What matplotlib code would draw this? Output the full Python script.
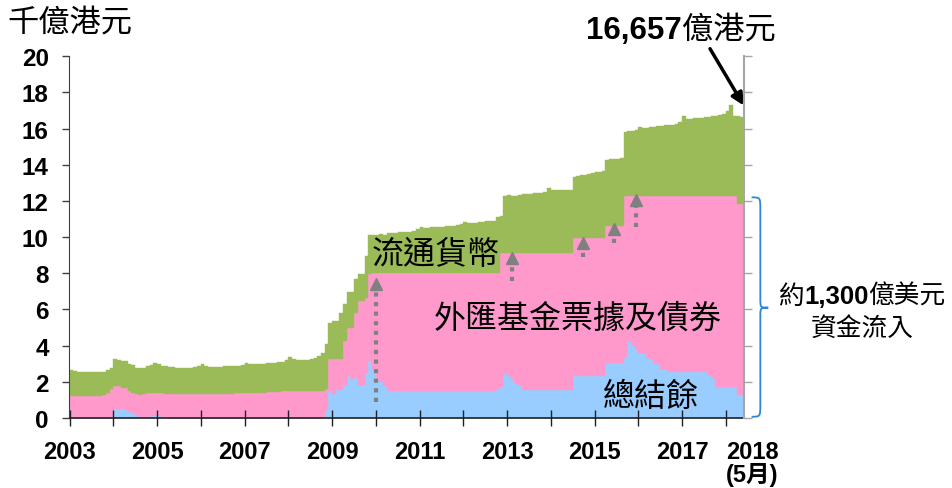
import numpy as np
import matplotlib
matplotlib.use("Agg")
import matplotlib.pyplot as plt
from matplotlib.path import Path
from matplotlib.patches import PathPatch

plt.rcParams['font.family'] = ['Liberation Sans', 'Noto Sans CJK TC']
CJK = ['Noto Sans CJK TC', 'DejaVu Sans']

# monthly values, Jan 2003 - May 2018, in 千億港元
balance = [  # 總結餘
    0, 0, 0, 0, 0, 0, 0, 0, 0, 0, 0, 0.05,                                # 2003
    0.51, 0.51, 0.51, 0.45, 0.32, 0.30, 0.10, 0.05, 0.05, 0.08, 0.12, 0.12,  # 2004
    0.10, 0.08, 0.05, 0.02, 0, 0, 0, 0, 0, 0, 0, 0,                       # 2005
    0, 0, 0, 0, 0, 0, 0, 0, 0, 0, 0, 0,                                   # 2006
    0, 0, 0, 0, 0, 0, 0, 0, 0, 0, 0, 0,                                   # 2007
    0, 0, 0, 0, 0, 0, 0, 0, 0, 0.05, 0.45, 1.49,                          # 2008
    1.30, 1.57, 1.57, 1.85, 2.40, 2.13, 2.22, 1.85, 1.85, 2.50, 3.15, 2.69,  # 2009
    2.13, 2.00, 1.76, 1.49, 1.49, 1.49, 1.49, 1.49, 1.49, 1.49, 1.49, 1.49,  # 2010
    1.49, 1.49, 1.49, 1.49, 1.49, 1.49, 1.49, 1.49, 1.49, 1.49, 1.49, 1.49,  # 2011
    1.49, 1.49, 1.49, 1.49, 1.49, 1.49, 1.49, 1.49, 1.49, 1.60, 1.73, 2.46,  # 2012
    2.30, 2.18, 1.95, 1.81, 1.60, 1.54, 1.54, 1.54, 1.54, 1.54, 1.54, 1.54,  # 2013
    1.54, 1.54, 1.54, 1.54, 1.54, 1.54, 2.32, 2.32, 2.32, 2.32, 2.32, 2.32,  # 2014
    2.35, 2.35, 2.35, 3.02, 3.02, 3.02, 3.02, 3.02, 3.39, 4.26, 4.02, 3.80,  # 2015
    3.58, 3.58, 3.39, 3.25, 2.96, 2.96, 2.72, 2.72, 2.54, 2.54, 2.54, 2.54,  # 2016
    2.54, 2.54, 2.54, 2.54, 2.54, 2.54, 2.54, 2.40, 2.23, 1.73, 1.73, 1.73,  # 2017
    1.73, 1.73, 1.73, 1.25, 1.25,                                         # 2018
]

bills = [  # 外匯基金票據及債券
    1.21, 1.21, 1.21, 1.21, 1.21, 1.21, 1.21, 1.21, 1.21, 1.25, 1.39, 1.53,
    1.25, 1.25, 1.16, 1.22, 1.17, 1.09, 1.20, 1.20, 1.25, 1.31, 1.28, 1.27,
    1.30, 1.29, 1.28, 1.29, 1.30, 1.30, 1.30, 1.30, 1.30, 1.30, 1.31, 1.31,
    1.32, 1.32, 1.32, 1.33, 1.33, 1.33, 1.34, 1.34, 1.35, 1.36, 1.37, 1.38,
    1.38, 1.38, 1.38, 1.39, 1.40, 1.41, 1.43, 1.44, 1.45, 1.46, 1.48, 1.49,
    1.49, 1.49, 1.49, 1.49, 1.49, 1.49, 1.49, 1.49, 1.49, 1.44, 1.15, 1.75,
    1.94, 1.67, 1.67, 2.40, 2.60, 2.87, 3.61, 4.62, 4.62, 4.16, 4.80, 5.31,
    5.91, 6.04, 6.28, 6.55, 6.55, 6.55, 6.55, 6.55, 6.55, 6.55, 6.55, 6.55,
    6.55, 6.55, 6.55, 6.55, 6.55, 6.55, 6.55, 6.55, 6.55, 6.55, 6.55, 6.55,
    6.55, 6.55, 6.55, 6.55, 6.55, 6.55, 6.55, 6.55, 6.55, 6.44, 7.42, 6.69,
    6.85, 6.97, 7.20, 7.34, 7.55, 7.61, 7.61, 7.61, 7.61, 7.61, 7.61, 7.61,
    7.61, 7.61, 7.61, 7.61, 7.61, 7.61, 7.63, 7.63, 7.63, 7.63, 7.63, 7.63,
    7.60, 7.60, 7.60, 7.61, 7.61, 7.61, 7.61, 7.61, 8.90, 8.03, 8.27, 8.49,
    8.71, 8.71, 8.90, 9.04, 9.33, 9.33, 9.57, 9.57, 9.75, 9.75, 9.75, 9.75,
    9.75, 9.75, 9.75, 9.75, 9.75, 9.75, 9.75, 9.89, 10.06, 10.56, 10.56, 10.56,
    10.56, 10.56, 10.56, 10.58, 10.58,
]

currency = [  # 流通貨幣
    1.44, 1.39, 1.34, 1.32, 1.31, 1.31, 1.32, 1.32, 1.33, 1.31, 1.26, 1.17,
    1.52, 1.43, 1.48, 1.48, 1.51, 1.52, 1.48, 1.49, 1.48, 1.48, 1.51, 1.63,
    1.57, 1.53, 1.52, 1.51, 1.50, 1.48, 1.49, 1.48, 1.47, 1.48, 1.49, 1.54,
    1.65, 1.53, 1.50, 1.50, 1.50, 1.51, 1.51, 1.51, 1.51, 1.51, 1.51, 1.55,
    1.67, 1.60, 1.59, 1.59, 1.59, 1.59, 1.59, 1.60, 1.61, 1.62, 1.62, 1.71,
    1.88, 1.76, 1.73, 1.71, 1.71, 1.73, 1.75, 1.81, 1.94, 2.11, 2.47, 2.03,
    2.13, 2.13, 2.59, 2.04, 1.94, 1.94, 1.84, 1.48, 1.48, 2.30, 2.15, 2.10,
    2.06, 2.11, 2.06, 2.18, 2.20, 2.21, 2.22, 2.23, 2.24, 2.26, 2.28, 2.41,
    2.51, 2.48, 2.46, 2.51, 2.51, 2.53, 2.54, 2.56, 2.58, 2.58, 2.61, 2.71,
    2.81, 2.74, 2.73, 2.76, 2.78, 2.81, 2.83, 2.84, 2.86, 3.06, 2.03, 3.14,
    3.20, 3.15, 3.15, 3.20, 3.23, 3.25, 3.25, 3.27, 3.30, 3.30, 3.35, 3.55,
    3.45, 3.43, 3.43, 3.45, 3.47, 3.48, 3.35, 3.43, 3.47, 3.50, 3.53, 3.57,
    3.65, 3.65, 3.72, 3.65, 3.67, 3.67, 3.69, 3.72, 3.55, 3.56, 3.59, 3.66,
    3.78, 3.76, 3.76, 3.79, 3.81, 3.83, 3.86, 3.89, 3.91, 3.93, 3.99, 4.06,
    4.41, 4.26, 4.26, 4.28, 4.29, 4.31, 4.33, 4.36, 4.39, 4.41, 4.46, 4.53,
    4.71, 5.02, 4.43, 4.85, 4.827,
]

year_labels = ['2003', '', '2005', '', '2007', '', '2009', '', '2011', '',
               '2013', '', '2015', '', '2017', '']

# dotted arrows: (year, start, tip)
arrows = [(2010.01, 0.86, 7.67), (2013.11, 7.58, 9.15), (2014.73, 8.90, 9.98),
          (2015.45, 9.67, 10.72), (2015.94, 10.54, 12.33)]

blue, pink, green = '#99CCFF', '#FF99CC', '#9BBB59'

W, H = 953, 489
fig = plt.figure(figsize=(W / 100, H / 100), dpi=100)
ax = fig.add_axes([69.5 / W, 1 - 419 / H, 674.5 / W, 361.7 / H])

n = len(balance)
x = 2003 + np.arange(n + 1) / 12
ext = lambda a: np.append(a, a[-1])
b = np.array(balance)
p = b + np.array(bills)
t = p + np.array(currency)

ax.fill_between(x, 0, ext(b), step='post', color=blue, lw=0.3, ec=blue)
ax.fill_between(x, ext(b), ext(p), step='post', color=pink, lw=0.3, ec=pink)
ax.fill_between(x, ext(p), ext(t), step='post', color=green, lw=0.3, ec=green)

ax.set_xlim(2003, 2003 + n / 12)
ax.set_ylim(0, 20)

# axes styling
ax.spines['top'].set_visible(False)
ax.spines['right'].set_visible(False)
ax.spines['left'].set_color('#404040')
ax.spines['bottom'].set_color('#202020')
ax.spines['bottom'].set_linewidth(1.2)

ax.set_yticks(range(0, 21, 2))
ax.tick_params(axis='y', direction='out', length=5, width=1, color='#404040',
               pad=10, labelsize=17.5)
ax.set_xticks(range(2003, 2019), labels=year_labels)
ax.tick_params(axis='x', which='major', direction='inout', length=11, width=1,
               color='#202020', pad=10, labelsize=17)
for lab in ax.get_xticklabels() + ax.get_yticklabels():
    lab.set_fontweight('bold')

# label of the last (partial) year, set to the right of its tick
ax.text(2018.6, -0.062, '2018\n(5月)', transform=ax.get_xaxis_transform(),
        ha='center', va='top', fontsize=17, fontweight='bold', linespacing=0.95)

ax2 = ax.twinx()
ax2.set_ylim(0, 20)
ax2.set_yticks(range(0, 21, 2), labels=[])
ax2.tick_params(axis='y', direction='out', length=6, width=1, color='#A6A6A6')
for s in ['top', 'left', 'bottom']:
    ax2.spines[s].set_visible(False)
ax2.spines['right'].set_color('#A6A6A6')
ax2.spines['right'].set_linewidth(1.5)

# dotted arrows
for xa, y0, y1 in arrows:
    ax.plot([xa, xa], [y0, y1 - 0.5], color='#808080', lw=3,
            ls=(0, (1, 1.3)), zorder=3)
    ax.plot([xa], [y1 - 0.28], marker='^', ms=9, color='#808080', zorder=3)

# series labels
ax.text(2011.38, 9.06, '流通貨幣', family=CJK, fontsize=23, ha='center',
        va='center', zorder=4)
ax.text(2014.62, 5.57, '外匯基金票據及債券', family=CJK, fontsize=23,
        ha='center', va='center', zorder=4)
ax.text(2016.3, 1.21, '總結餘', family=CJK, fontsize=23, ha='center',
        va='center', zorder=4)

# titles / annotations (figure pixel positions)
fx = lambda px: px / W
fy = lambda py: 1 - py / H
renderer = fig.canvas.get_renderer()


def text_row(pieces, cx, base_py, size):
    """Place pieces of mixed-font text side by side, centred on cx (pixels)."""
    arts = []
    for s, fam, wt in pieces:
        arts.append(fig.text(0, fy(base_py), s, family=fam, fontweight=wt,
                             fontsize=size, va='baseline', ha='left'))
    widths = [a.get_window_extent(renderer).width for a in arts]
    left = cx - sum(widths) / 2
    for a, w in zip(arts, widths):
        a.set_x(fx(left))
        left += w


fig.text(fx(7), fy(23), '千億港元', family=CJK, fontsize=22.5, va='center')
text_row([('16,657', ['Liberation Sans'], 'bold'), ('億港元', CJK, 'normal')],
         681, 39, 22.5)
ax.annotate('', xy=(2018.41, 17.28), xytext=(2017.64, 20.42),
            arrowprops=dict(arrowstyle='-|>', lw=2.5, color='black',
                            mutation_scale=18, shrinkA=0, shrinkB=0),
            annotation_clip=False)

# brace on the right
xa_, xb_, xc_ = 2018.59, 2018.79, 2018.97
top_, mid_, bot_ = 12.2, 6.1, 0.07
verts = [(xa_, top_), (xb_, top_), (xb_, top_), (xb_, top_ - 0.7),
         (xb_, mid_ + 0.5),
         (xb_, mid_), (xb_, mid_), (xc_, mid_),
         (xb_, mid_), (xb_, mid_), (xb_, mid_ - 0.5),
         (xb_, bot_ + 0.7),
         (xb_, bot_), (xb_, bot_), (xa_, bot_)]
codes = [Path.MOVETO, Path.CURVE4, Path.CURVE4, Path.CURVE4, Path.LINETO,
         Path.CURVE4, Path.CURVE4, Path.CURVE4,
         Path.CURVE4, Path.CURVE4, Path.CURVE4, Path.LINETO,
         Path.CURVE4, Path.CURVE4, Path.CURVE4]
ax.add_patch(PathPatch(Path(verts, codes), fc='none', ec='#2E86D6', lw=1.3,
                       clip_on=False))

text_row([('約', CJK, 'normal'), ('1,300', ['Liberation Sans'], 'bold'),
          ('億美元', CJK, 'normal')], 862, 304, 18.5)
text_row([('資金流入', CJK, 'normal')], 862, 336, 18.5)

fig.savefig('out.png', dpi=100)
